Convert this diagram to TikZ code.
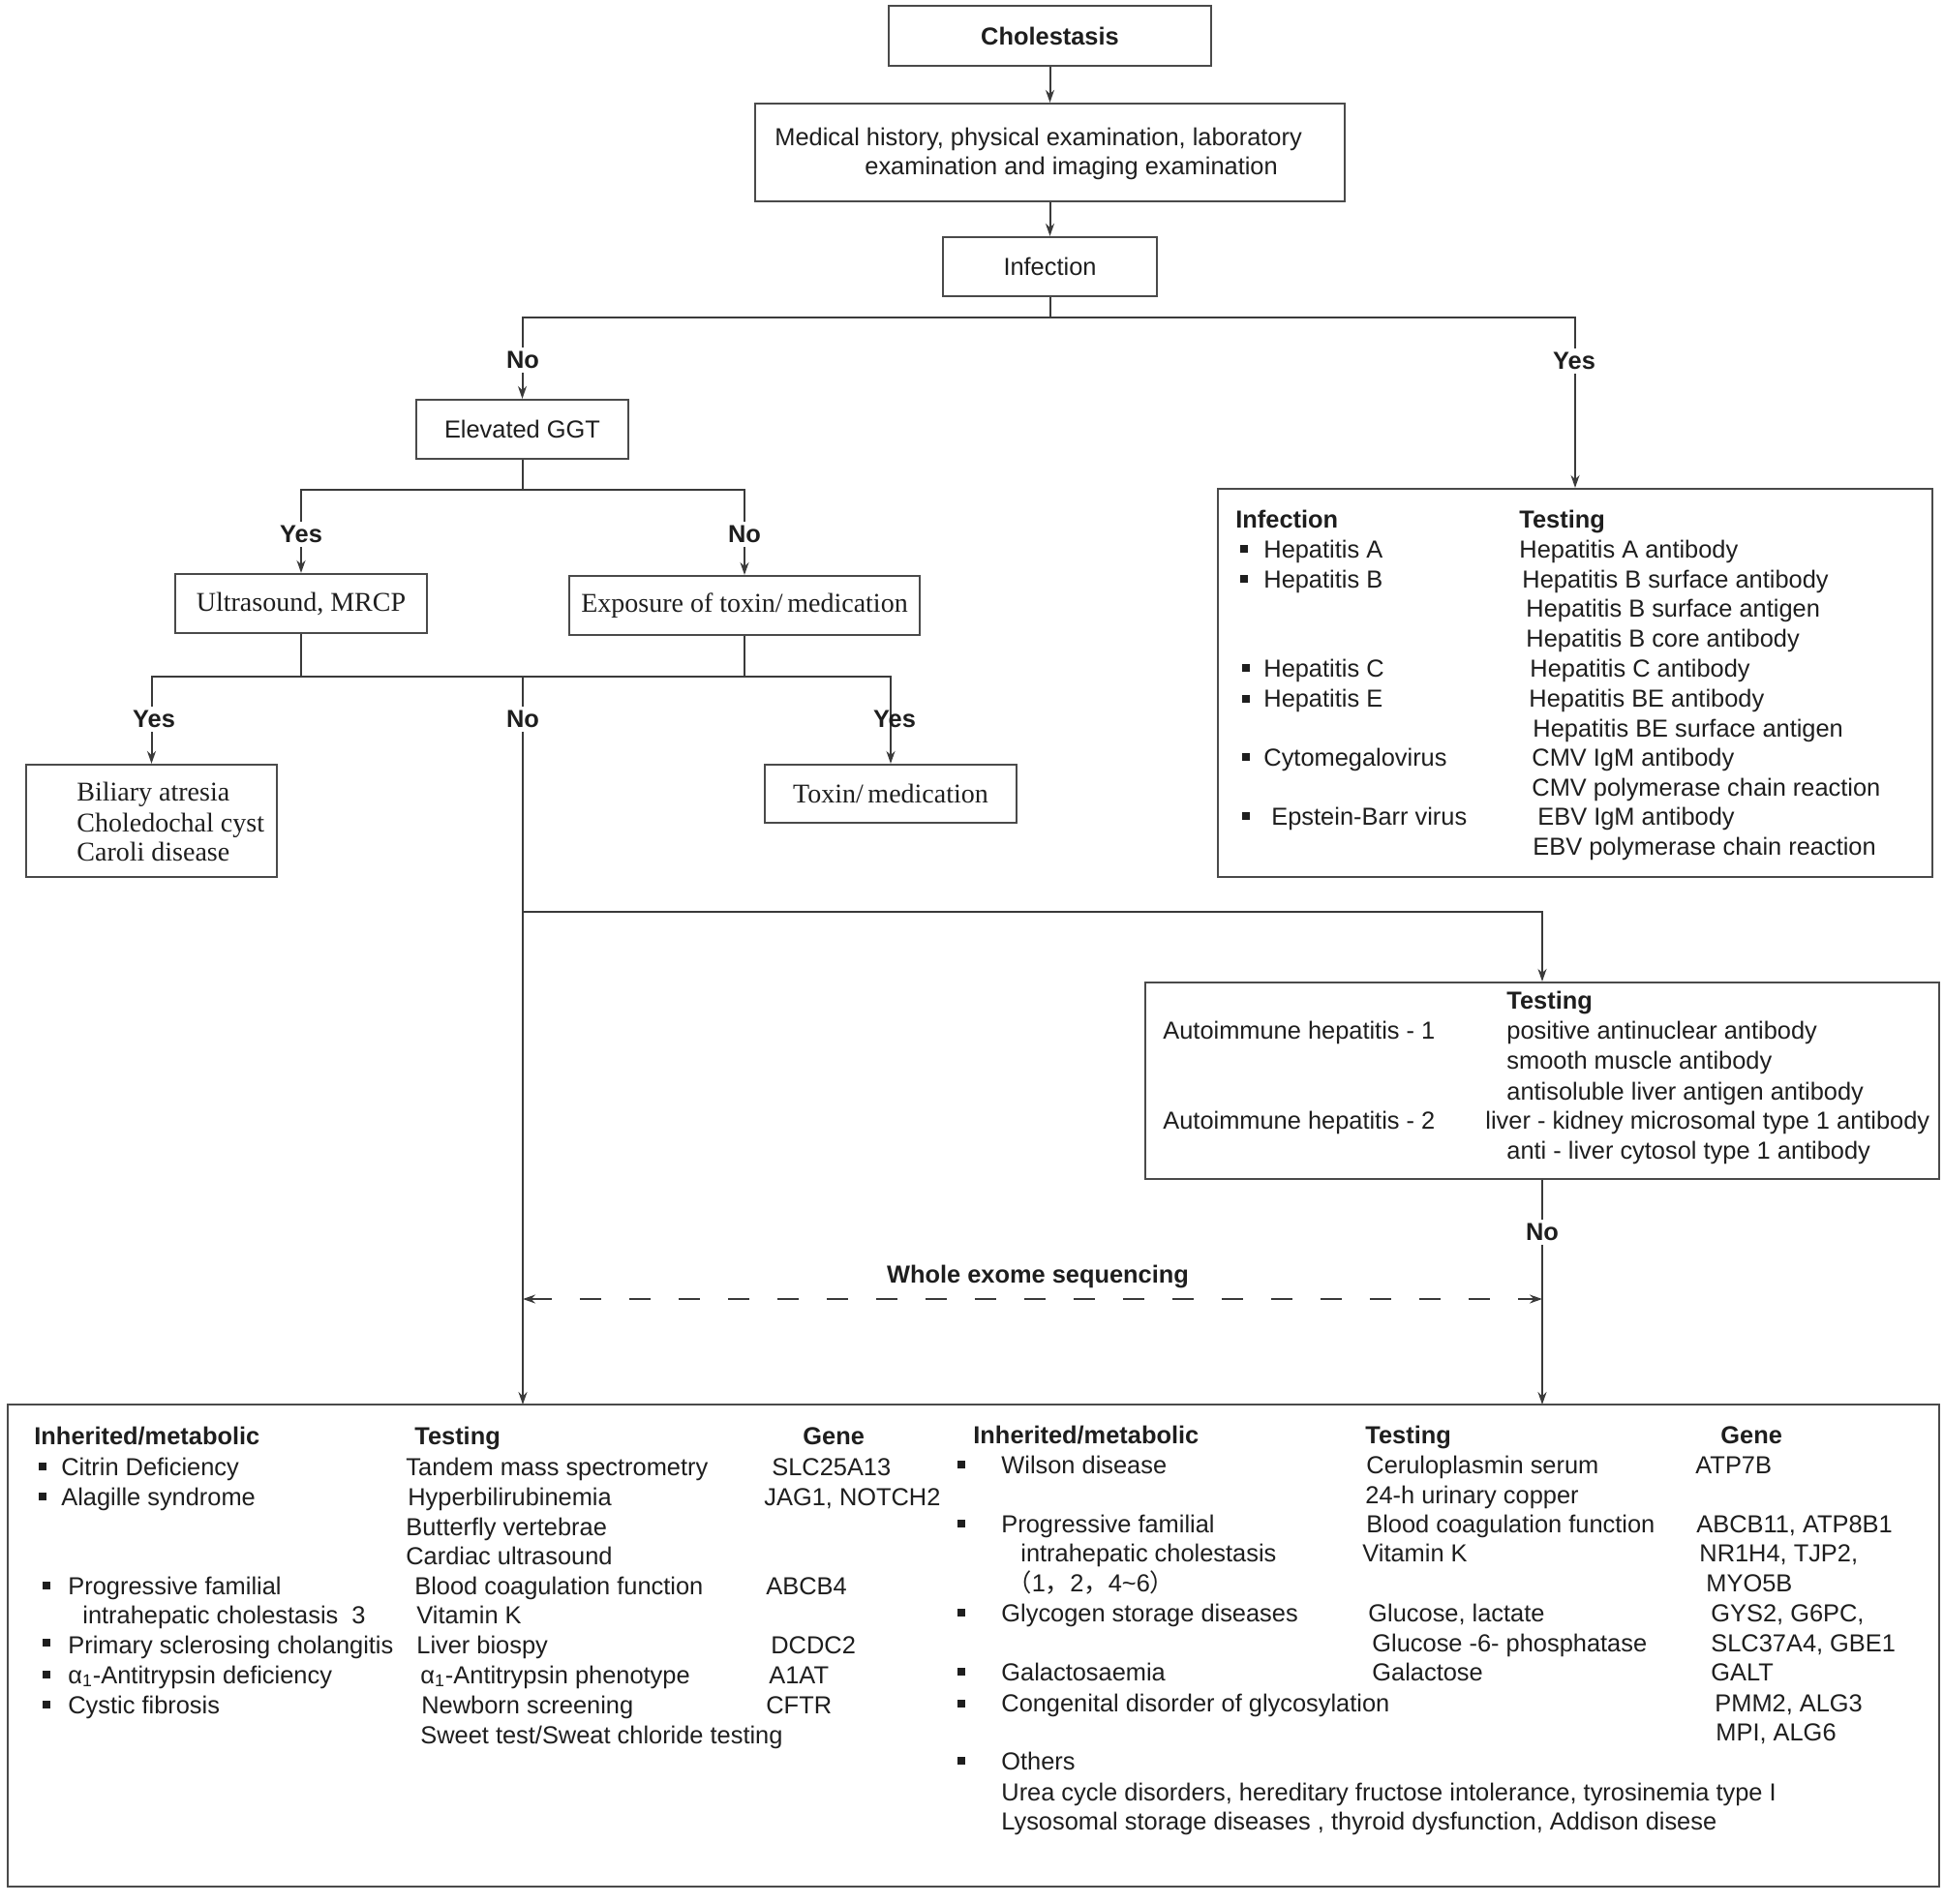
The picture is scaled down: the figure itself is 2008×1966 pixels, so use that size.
\documentclass[tikz,border=0pt]{standalone}
\usepackage{fontspec}
\setmainfont{Liberation Sans}
\newfontfamily\serifx{Liberation Serif}
\newfontfamily\cjk{Noto Sans CJK SC}
\usetikzlibrary{arrows.meta}
\definecolor{lin}{HTML}{3A3A3A}
\definecolor{txt}{HTML}{1E1E1E}
\definecolor{bd}{HTML}{4A4A4A}
\newcommand\bul[2]{\fill[txt] ({#1-4},{#2-4}) rectangle ({#1+4},{#2+4});}
\begin{document}
\begin{tikzpicture}[x=0.5pt,y=-0.5pt,
  bx/.style={draw=bd, line width=1.1pt, inner sep=0pt, text=txt},
  sf/.style={font=\fontsize{12.7}{15.4}\selectfont},
  sfb/.style={font=\fontsize{12.7}{15.4}\selectfont\bfseries},
  rm/.style={font=\serifx\fontsize{14}{17}\selectfont},
  t/.style={anchor=west, inner sep=0pt, text height=9pt, text depth=0pt, sf, text=txt},
  tb/.style={t, sfb},
  ts/.style={t, rm, text height=9.3pt},
  lab/.style={inner sep=2pt, sfb, text=txt, fill=white},
  ln/.style={draw=lin, line width=1pt},
  arr/.style={ln, -{Stealth[length=6.5pt,width=4.5pt]}},
]
\useasboundingbox (0,0) rectangle (2008,1966);

% ---------- boxes ----------
\node[bx, sfb, minimum width=166.5pt, minimum height=31pt] (chol) at (1084.5,37) {Cholestasis};
\node[bx, minimum width=304.5pt, minimum height=50.5pt] (med) at (1084.5,157.5) {};
\node[bx, sf, minimum width=110.5pt, minimum height=30.5pt] (inf) at (1084.5,275.5) {Infection};
\node[bx, sf, minimum width=109.5pt, minimum height=30.5pt] (ggt) at (539.5,443.5) {Elevated GGT};
\node[bx, rm, minimum width=130pt, minimum height=30.5pt] (us) at (311,623.5) {Ultrasound, MRCP};
\node[bx, rm, minimum width=181pt, minimum height=30.5pt] (exp) at (769,625.5) {Exposure of toxin/\,medication};
\node[bx, minimum width=129.5pt, minimum height=58pt] (bil) at (156.5,848) {};
\node[bx, rm, minimum width=130pt, minimum height=30pt] (tox) at (920,820) {Toxin/\,medication};
\node[bx, minimum width=369pt, minimum height=200.5pt] (infT) at (1627,705.5) {};
\node[bx, minimum width=410pt, minimum height=101.5pt] (auto) at (1593,1116.5) {};
\node[bx, minimum width=997.5pt, minimum height=249pt] (bot) at (1005.5,1700) {};

% ---------- connectors ----------
\coordinate (j1) at (1084.5,328);
\coordinate (j2) at (539.5,506);
\coordinate (j3) at (540,699);
\coordinate (j4) at (540,942);
\coordinate (bL) at (540,1451);
\coordinate (bR) at (1593,1451);
\coordinate (dL) at (540,1342);
\coordinate (dR) at (1593,1342);

\draw[arr] (chol.south) -- (med.north);
\draw[arr] (med.south) -- (inf.north);
\draw[ln] (inf.south) -- (j1);
\draw[arr] (j1) -| (ggt.north);
\draw[arr] (j1) -| (infT.north);
\draw[ln] (ggt.south) -- (j2);
\draw[arr] (j2) -| (us.north);
\draw[arr] (j2) -| (exp.north);
\draw[ln] (us.south) |- (j3);
\draw[ln] (exp.south) |- (j3);
\draw[arr] (j3) -| (bil.north);
\draw[arr] (j3) -| (tox.north);
\draw[arr] (j3) -- (bL);
\draw[arr] (j4) -| (auto.north);
\draw[arr] (auto.south) -- (bR);
\draw[ln, dash pattern=on 11pt off 14.5pt, {Stealth[length=6.5pt,width=4.5pt]}-{Stealth[length=6.5pt,width=4.5pt]}] (dL) -- (dR);

% ---------- branch labels ----------
\node[lab] (l1) at (540,372) {No};
\node[lab] (l2) at (1626,373) {Yes};
\node[lab] (l3) at (311,552) {Yes};
\node[lab] (l4) at (769,552) {No};
\node[lab] (l5) at (159,743) {Yes};
\node[lab] (l6) at (540,743) {No};
\node[lab, fill=none] (l7) at (924,743) {Yes};
\node[lab] (l8) at (1593,1273) {No};
\node[lab, fill=none] (wes) at (1072,1319) {Whole exome sequencing};

% ---------- medical history box text ----------
\node[t] (m1) at (800,141) {Medical history, physical examination, laboratory};
\node[t] (m2) at (893,171) {examination and imaging examination};

% ---------- biliary box ----------
\node[ts] (b1) at (79,818) {Biliary atresia};
\node[ts] (b2) at (79,850) {Choledochal cyst};
\node[ts] (b3) at (79,880) {Caroli disease};

% ---------- infection testing box ----------
\node[tb] (ih1) at (1276,536) {Infection};
\node[tb] (ih2) at (1569,536) {Testing};
\bul{1285}{567} \node[t] (i1) at (1305,567) {Hepatitis A};
\node[t] (i1t) at (1569,567) {Hepatitis A antibody};
\bul{1285}{598} \node[t] (i2) at (1305,598) {Hepatitis B};
\node[t] (i2t) at (1572,598) {Hepatitis B surface antibody};
\node[t] (i2u) at (1576,628) {Hepatitis B surface antigen};
\node[t] (i2v) at (1576,659) {Hepatitis B core antibody};
\bul{1287}{690} \node[t] (i3) at (1305,690) {Hepatitis C};
\node[t] (i3t) at (1580,690) {Hepatitis C antibody};
\bul{1287}{722} \node[t] (i4) at (1305,721) {Hepatitis E};
\node[t] (i4t) at (1579,721) {Hepatitis BE antibody};
\node[t] (i4u) at (1583,752) {Hepatitis BE surface antigen};
\bul{1287}{782} \node[t] (i5) at (1305,782) {Cytomegalovirus};
\node[t] (i5t) at (1582,782) {CMV IgM antibody};
\node[t] (i5u) at (1582,813) {CMV polymerase chain reaction};
\bul{1287}{843} \node[t] (i6) at (1313,843) {Epstein-Barr virus};
\node[t] (i6t) at (1588,843) {EBV IgM antibody};
\node[t] (i6u) at (1583,874) {EBV polymerase chain reaction};

% ---------- autoimmune box ----------
\node[tb] (ah) at (1556,1033) {Testing};
\node[t] (a1) at (1201,1064) {Autoimmune hepatitis - 1};
\node[t] (a1t) at (1556,1064) {positive antinuclear antibody};
\node[t] (a1u) at (1556,1095) {smooth muscle antibody};
\node[t] (a1v) at (1556,1127) {antisoluble liver antigen antibody};
\node[t] (a2) at (1201,1157) {Autoimmune hepatitis - 2};
\node[t] (a2t) at (1534,1157) {liver - kidney microsomal type 1 antibody};
\node[t] (a2u) at (1556,1188) {anti - liver cytosol type 1 antibody};

% ---------- bottom box, left part ----------
\node[tb] (h1) at (35,1483) {Inherited/metabolic};
\node[tb] (h2) at (428,1483) {Testing};
\node[tb] (h3) at (829,1483) {Gene};
\bul{44}{1515} \node[t] (c1) at (63,1515) {Citrin Deficiency};
\node[t] (c1t) at (419,1515) {Tandem mass spectrometry};
\node[t] (c1g) at (797,1515) {SLC25A13};
\bul{44}{1546} \node[t] (c2) at (63,1546) {Alagille syndrome};
\node[t] (c2t) at (421,1546) {Hyperbilirubinemia};
\node[t] (c2g) at (789,1546) {JAG1, NOTCH2};
\node[t] (c2u) at (419,1577) {Butterfly vertebrae};
\node[t] (c2v) at (419,1607) {Cardiac ultrasound};
\bul{48}{1638} \node[t] (c3) at (70,1638) {Progressive familial};
\node[t] (c3t) at (428,1638) {Blood coagulation function};
\node[t] (c3g) at (791,1638) {ABCB4};
\node[t] (c3b) at (85,1668) {intrahepatic cholestasis\ \ 3};
\node[t] (c3u) at (430,1668) {Vitamin K};
\bul{48}{1697} \node[t] (c4) at (70,1699) {Primary sclerosing cholangitis};
\node[t] (c4t) at (430,1699) {Liver biospy};
\node[t] (c4g) at (796,1699) {DCDC2};
\bul{48}{1730} \node[t] (c5) at (70,1730) {α\textsubscript{1}-Antitrypsin deficiency};
\node[t] (c5t) at (434,1730) {α\textsubscript{1}-Antitrypsin phenotype};
\node[t] (c5g) at (794,1730) {A1AT};
\bul{48}{1761} \node[t] (c6) at (70,1761) {Cystic fibrosis};
\node[t] (c6t) at (435,1761) {Newborn screening};
\node[t] (c6g) at (791,1761) {CFTR};
\node[t] (c6u) at (434,1792) {Sweet test/Sweat chloride testing};

% ---------- bottom box, right part ----------
\node[tb] (r1) at (1005,1482) {Inherited/metabolic};
\node[tb] (r2) at (1410,1482) {Testing};
\node[tb] (r3) at (1777,1482) {Gene};
\bul{993}{1513} \node[t] (w1) at (1034,1513) {Wilson disease};
\node[t] (w1t) at (1411,1513) {Ceruloplasmin serum};
\node[t] (w1g) at (1751,1513) {ATP7B};
\node[t] (w1u) at (1410,1544) {24-h urinary copper};
\bul{993}{1574} \node[t] (w2) at (1034,1574) {Progressive familial};
\node[t] (w2t) at (1411,1574) {Blood coagulation function};
\node[t] (w2g) at (1752,1574) {ABCB11, ATP8B1};
\node[t] (w2b) at (1054,1604) {intrahepatic cholestasis};
\node[t] (w2u) at (1407,1604) {Vitamin K};
\node[t] (w2h) at (1755,1604) {NR1H4, TJP2,};
\node[t] (w2c) at (1040,1635) {{\cjk （}1{\cjk ，}2{\cjk ，}4\textasciitilde 6{\cjk ）}};
\node[t] (w2i) at (1762,1635) {MYO5B};
\bul{993}{1666} \node[t] (w3) at (1034,1666) {Glycogen storage diseases};
\node[t] (w3t) at (1413,1666) {Glucose, lactate};
\node[t] (w3g) at (1767,1666) {GYS2, G6PC,};
\node[t] (w3u) at (1417,1697) {Glucose -6- phosphatase};
\node[t] (w3h) at (1767,1697) {SLC37A4, GBE1};
\bul{993}{1727} \node[t] (w4) at (1034,1727) {Galactosaemia};
\node[t] (w4t) at (1417,1727) {Galactose};
\node[t] (w4g) at (1767,1727) {GALT};
\bul{993}{1760} \node[t] (w5) at (1034,1759) {Congenital disorder of glycosylation};
\node[t] (w5g) at (1771,1759) {PMM2, ALG3};
\node[t] (w5h) at (1772,1789) {MPI, ALG6};
\bul{993}{1819} \node[t] (w6) at (1034,1819) {Others};
\node[t] (w6a) at (1034,1851) {Urea cycle disorders, hereditary fructose intolerance, tyrosinemia type I};
\node[t] (w6b) at (1034,1881) {Lysosomal storage diseases , thyroid dysfunction, Addison disese};
\end{tikzpicture}
\end{document}
